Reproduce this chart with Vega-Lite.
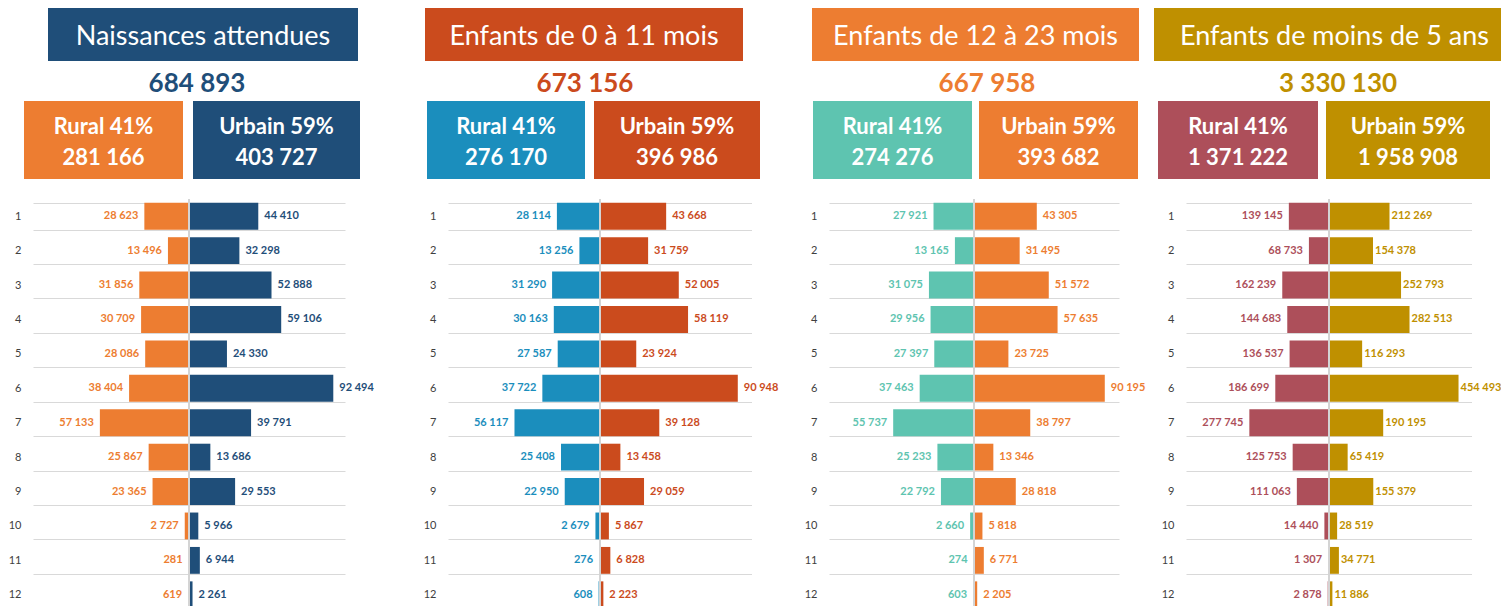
{
  "$schema": "https://vega.github.io/schema/vega-lite/v6.json",
  "padding": 0,
  "background": "white",
  "autosize": {"type": "pad"},
  "spacing": 0,
  "config": {
    "view": {"stroke": null},
    "font": "Lato",
    "concat": {"spacing": 0},
    "locale": {"number": {"decimal": ",", "thousands": " ", "grouping": [3], "currency": ["", " €"]}}
  },
  "datasets": {
    "bars": [
      {"panel": "p1", "zone": "Rural", "row": 1, "value": 28623},
      {"panel": "p1", "zone": "Rural", "row": 2, "value": 13496},
      {"panel": "p1", "zone": "Rural", "row": 3, "value": 31856},
      {"panel": "p1", "zone": "Rural", "row": 4, "value": 30709},
      {"panel": "p1", "zone": "Rural", "row": 5, "value": 28086},
      {"panel": "p1", "zone": "Rural", "row": 6, "value": 38404},
      {"panel": "p1", "zone": "Rural", "row": 7, "value": 57133},
      {"panel": "p1", "zone": "Rural", "row": 8, "value": 25867},
      {"panel": "p1", "zone": "Rural", "row": 9, "value": 23365},
      {"panel": "p1", "zone": "Rural", "row": 10, "value": 2727},
      {"panel": "p1", "zone": "Rural", "row": 11, "value": 281},
      {"panel": "p1", "zone": "Rural", "row": 12, "value": 619},
      {"panel": "p1", "zone": "Urbain", "row": 1, "value": 44410},
      {"panel": "p1", "zone": "Urbain", "row": 2, "value": 32298},
      {"panel": "p1", "zone": "Urbain", "row": 3, "value": 52888},
      {"panel": "p1", "zone": "Urbain", "row": 4, "value": 59106},
      {"panel": "p1", "zone": "Urbain", "row": 5, "value": 24330},
      {"panel": "p1", "zone": "Urbain", "row": 6, "value": 92494},
      {"panel": "p1", "zone": "Urbain", "row": 7, "value": 39791},
      {"panel": "p1", "zone": "Urbain", "row": 8, "value": 13686},
      {"panel": "p1", "zone": "Urbain", "row": 9, "value": 29553},
      {"panel": "p1", "zone": "Urbain", "row": 10, "value": 5966},
      {"panel": "p1", "zone": "Urbain", "row": 11, "value": 6944},
      {"panel": "p1", "zone": "Urbain", "row": 12, "value": 2261},
      {"panel": "p2", "zone": "Rural", "row": 1, "value": 28114},
      {"panel": "p2", "zone": "Rural", "row": 2, "value": 13256},
      {"panel": "p2", "zone": "Rural", "row": 3, "value": 31290},
      {"panel": "p2", "zone": "Rural", "row": 4, "value": 30163},
      {"panel": "p2", "zone": "Rural", "row": 5, "value": 27587},
      {"panel": "p2", "zone": "Rural", "row": 6, "value": 37722},
      {"panel": "p2", "zone": "Rural", "row": 7, "value": 56117},
      {"panel": "p2", "zone": "Rural", "row": 8, "value": 25408},
      {"panel": "p2", "zone": "Rural", "row": 9, "value": 22950},
      {"panel": "p2", "zone": "Rural", "row": 10, "value": 2679},
      {"panel": "p2", "zone": "Rural", "row": 11, "value": 276},
      {"panel": "p2", "zone": "Rural", "row": 12, "value": 608},
      {"panel": "p2", "zone": "Urbain", "row": 1, "value": 43668},
      {"panel": "p2", "zone": "Urbain", "row": 2, "value": 31759},
      {"panel": "p2", "zone": "Urbain", "row": 3, "value": 52005},
      {"panel": "p2", "zone": "Urbain", "row": 4, "value": 58119},
      {"panel": "p2", "zone": "Urbain", "row": 5, "value": 23924},
      {"panel": "p2", "zone": "Urbain", "row": 6, "value": 90948},
      {"panel": "p2", "zone": "Urbain", "row": 7, "value": 39128},
      {"panel": "p2", "zone": "Urbain", "row": 8, "value": 13458},
      {"panel": "p2", "zone": "Urbain", "row": 9, "value": 29059},
      {"panel": "p2", "zone": "Urbain", "row": 10, "value": 5867},
      {"panel": "p2", "zone": "Urbain", "row": 11, "value": 6828},
      {"panel": "p2", "zone": "Urbain", "row": 12, "value": 2223},
      {"panel": "p3", "zone": "Rural", "row": 1, "value": 27921},
      {"panel": "p3", "zone": "Rural", "row": 2, "value": 13165},
      {"panel": "p3", "zone": "Rural", "row": 3, "value": 31075},
      {"panel": "p3", "zone": "Rural", "row": 4, "value": 29956},
      {"panel": "p3", "zone": "Rural", "row": 5, "value": 27397},
      {"panel": "p3", "zone": "Rural", "row": 6, "value": 37463},
      {"panel": "p3", "zone": "Rural", "row": 7, "value": 55737},
      {"panel": "p3", "zone": "Rural", "row": 8, "value": 25233},
      {"panel": "p3", "zone": "Rural", "row": 9, "value": 22792},
      {"panel": "p3", "zone": "Rural", "row": 10, "value": 2660},
      {"panel": "p3", "zone": "Rural", "row": 11, "value": 274},
      {"panel": "p3", "zone": "Rural", "row": 12, "value": 603},
      {"panel": "p3", "zone": "Urbain", "row": 1, "value": 43305},
      {"panel": "p3", "zone": "Urbain", "row": 2, "value": 31495},
      {"panel": "p3", "zone": "Urbain", "row": 3, "value": 51572},
      {"panel": "p3", "zone": "Urbain", "row": 4, "value": 57635},
      {"panel": "p3", "zone": "Urbain", "row": 5, "value": 23725},
      {"panel": "p3", "zone": "Urbain", "row": 6, "value": 90195},
      {"panel": "p3", "zone": "Urbain", "row": 7, "value": 38797},
      {"panel": "p3", "zone": "Urbain", "row": 8, "value": 13346},
      {"panel": "p3", "zone": "Urbain", "row": 9, "value": 28818},
      {"panel": "p3", "zone": "Urbain", "row": 10, "value": 5818},
      {"panel": "p3", "zone": "Urbain", "row": 11, "value": 6771},
      {"panel": "p3", "zone": "Urbain", "row": 12, "value": 2205},
      {"panel": "p4", "zone": "Rural", "row": 1, "value": 139145},
      {"panel": "p4", "zone": "Rural", "row": 2, "value": 68733},
      {"panel": "p4", "zone": "Rural", "row": 3, "value": 162239},
      {"panel": "p4", "zone": "Rural", "row": 4, "value": 144683},
      {"panel": "p4", "zone": "Rural", "row": 5, "value": 136537},
      {"panel": "p4", "zone": "Rural", "row": 6, "value": 186699},
      {"panel": "p4", "zone": "Rural", "row": 7, "value": 277745},
      {"panel": "p4", "zone": "Rural", "row": 8, "value": 125753},
      {"panel": "p4", "zone": "Rural", "row": 9, "value": 111063},
      {"panel": "p4", "zone": "Rural", "row": 10, "value": 14440},
      {"panel": "p4", "zone": "Rural", "row": 11, "value": 1307},
      {"panel": "p4", "zone": "Rural", "row": 12, "value": 2878},
      {"panel": "p4", "zone": "Urbain", "row": 1, "value": 212269},
      {"panel": "p4", "zone": "Urbain", "row": 2, "value": 154378},
      {"panel": "p4", "zone": "Urbain", "row": 3, "value": 252793},
      {"panel": "p4", "zone": "Urbain", "row": 4, "value": 282513},
      {"panel": "p4", "zone": "Urbain", "row": 5, "value": 116293},
      {"panel": "p4", "zone": "Urbain", "row": 6, "value": 454493},
      {"panel": "p4", "zone": "Urbain", "row": 7, "value": 190195},
      {"panel": "p4", "zone": "Urbain", "row": 8, "value": 65419},
      {"panel": "p4", "zone": "Urbain", "row": 9, "value": 155379},
      {"panel": "p4", "zone": "Urbain", "row": 10, "value": 28519},
      {"panel": "p4", "zone": "Urbain", "row": 11, "value": 34771},
      {"panel": "p4", "zone": "Urbain", "row": 12, "value": 11886}
    ]
  },
  "vconcat": [
    {"width": 1400, "height": 8, "data": {"values": []}, "mark": "rect", "encoding": {}},
    {
      "spacing": 0, "bounds": "flush",
      "hconcat": [
        {"width": 48, "height": 53, "data": {"values": []}, "mark": "rect", "encoding": {}},
        {"width": 310, "height": 53, "view": {"fill": "#1F4E79"}, "data": {"values": [{"label": "Naissances attendues"}]},
         "mark": {"type": "text", "color": "white", "fontSize": 27, "baseline": "middle", "dy": 2}, "encoding": {"text": {"field": "label", "type": "nominal"}}},
        {"width": 67, "height": 53, "data": {"values": []}, "mark": "rect", "encoding": {}},
        {"width": 318, "height": 53, "view": {"fill": "#CB4B1D"}, "data": {"values": [{"label": "Enfants de 0 à 11 mois"}]},
         "mark": {"type": "text", "color": "white", "fontSize": 27, "baseline": "middle", "dy": 2}, "encoding": {"text": {"field": "label", "type": "nominal"}}},
        {"width": 69, "height": 53, "data": {"values": []}, "mark": "rect", "encoding": {}},
        {"width": 327, "height": 53, "view": {"fill": "#ED7D31"}, "data": {"values": [{"label": "Enfants de 12 à 23 mois"}]},
         "mark": {"type": "text", "color": "white", "fontSize": 27, "baseline": "middle", "dy": 2}, "encoding": {"text": {"field": "label", "type": "nominal"}}},
        {"width": 15, "height": 53, "data": {"values": []}, "mark": "rect", "encoding": {}},
        {"width": 347, "height": 53, "view": {"fill": "#BF9000"}, "data": {"values": [{"label": "Enfants de moins de 5 ans"}]},
         "mark": {"type": "text", "color": "white", "fontSize": 27, "baseline": "middle", "dy": 2, "dx": 7}, "encoding": {"text": {"field": "label", "type": "nominal"}}}
      ]
    },
    {
      "spacing": 0, "bounds": "flush",
      "hconcat": [
        {"width": 394, "height": 40, "data": {"values": [{"total": 684893}]},
         "mark": {"type": "text", "color": "#1F4E79", "fontSize": 26, "fontWeight": "bold", "baseline": "middle", "dy": 3}, "encoding": {"text": {"field": "total", "type": "quantitative", "format": ",d"}}},
        {"width": 382, "height": 40, "data": {"values": [{"total": 673156}]},
         "mark": {"type": "text", "color": "#CB4B1D", "fontSize": 26, "fontWeight": "bold", "baseline": "middle", "dy": 3}, "encoding": {"text": {"field": "total", "type": "quantitative", "format": ",d"}}},
        {"width": 422, "height": 40, "data": {"values": [{"total": 667958}]},
         "mark": {"type": "text", "color": "#ED7D31", "fontSize": 26, "fontWeight": "bold", "baseline": "middle", "dy": 3}, "encoding": {"text": {"field": "total", "type": "quantitative", "format": ",d"}}},
        {"width": 280, "height": 40, "data": {"values": [{"total": 3330130}]},
         "mark": {"type": "text", "color": "#BF9000", "fontSize": 26, "fontWeight": "bold", "baseline": "middle", "dy": 3}, "encoding": {"text": {"field": "total", "type": "quantitative", "format": ",d"}}}
      ]
    },
    {
      "spacing": 0, "bounds": "flush",
      "hconcat": [
        {"width": 24, "height": 78, "data": {"values": []}, "mark": "rect", "encoding": {}},
        {"width": 159, "height": 78, "view": {"fill": "#ED7D31"}, "data": {"values": [{"label": "Rural 41%", "value": 281166}]},
         "layer": [
           {"mark": {"type": "text", "color": "white", "fontSize": 22, "fontWeight": "bold", "baseline": "middle", "dy": -13}, "encoding": {"text": {"field": "label", "type": "nominal"}}},
           {"mark": {"type": "text", "color": "white", "fontSize": 22, "fontWeight": "bold", "baseline": "middle", "dy": 18}, "encoding": {"text": {"field": "value", "type": "quantitative", "format": ",d"}}}
         ]},
        {"width": 10, "height": 78, "data": {"values": []}, "mark": "rect", "encoding": {}},
        {"width": 167, "height": 78, "view": {"fill": "#1F4E79"}, "data": {"values": [{"label": "Urbain 59%", "value": 403727}]},
         "layer": [
           {"mark": {"type": "text", "color": "white", "fontSize": 22, "fontWeight": "bold", "baseline": "middle", "dy": -13}, "encoding": {"text": {"field": "label", "type": "nominal"}}},
           {"mark": {"type": "text", "color": "white", "fontSize": 22, "fontWeight": "bold", "baseline": "middle", "dy": 18}, "encoding": {"text": {"field": "value", "type": "quantitative", "format": ",d"}}}
         ]},
        {"width": 67, "height": 78, "data": {"values": []}, "mark": "rect", "encoding": {}},
        {"width": 158, "height": 78, "view": {"fill": "#1B8EBD"}, "data": {"values": [{"label": "Rural 41%", "value": 276170}]},
         "layer": [
           {"mark": {"type": "text", "color": "white", "fontSize": 22, "fontWeight": "bold", "baseline": "middle", "dy": -13}, "encoding": {"text": {"field": "label", "type": "nominal"}}},
           {"mark": {"type": "text", "color": "white", "fontSize": 22, "fontWeight": "bold", "baseline": "middle", "dy": 18}, "encoding": {"text": {"field": "value", "type": "quantitative", "format": ",d"}}}
         ]},
        {"width": 9, "height": 78, "data": {"values": []}, "mark": "rect", "encoding": {}},
        {"width": 166, "height": 78, "view": {"fill": "#CB4B1D"}, "data": {"values": [{"label": "Urbain 59%", "value": 396986}]},
         "layer": [
           {"mark": {"type": "text", "color": "white", "fontSize": 22, "fontWeight": "bold", "baseline": "middle", "dy": -13}, "encoding": {"text": {"field": "label", "type": "nominal"}}},
           {"mark": {"type": "text", "color": "white", "fontSize": 22, "fontWeight": "bold", "baseline": "middle", "dy": 18}, "encoding": {"text": {"field": "value", "type": "quantitative", "format": ",d"}}}
         ]},
        {"width": 53, "height": 78, "data": {"values": []}, "mark": "rect", "encoding": {}},
        {"width": 159, "height": 78, "view": {"fill": "#5EC4B0"}, "data": {"values": [{"label": "Rural 41%", "value": 274276}]},
         "layer": [
           {"mark": {"type": "text", "color": "white", "fontSize": 22, "fontWeight": "bold", "baseline": "middle", "dy": -13}, "encoding": {"text": {"field": "label", "type": "nominal"}}},
           {"mark": {"type": "text", "color": "white", "fontSize": 22, "fontWeight": "bold", "baseline": "middle", "dy": 18}, "encoding": {"text": {"field": "value", "type": "quantitative", "format": ",d"}}}
         ]},
        {"width": 7, "height": 78, "data": {"values": []}, "mark": "rect", "encoding": {}},
        {"width": 159, "height": 78, "view": {"fill": "#ED7D31"}, "data": {"values": [{"label": "Urbain 59%", "value": 393682}]},
         "layer": [
           {"mark": {"type": "text", "color": "white", "fontSize": 22, "fontWeight": "bold", "baseline": "middle", "dy": -13}, "encoding": {"text": {"field": "label", "type": "nominal"}}},
           {"mark": {"type": "text", "color": "white", "fontSize": 22, "fontWeight": "bold", "baseline": "middle", "dy": 18}, "encoding": {"text": {"field": "value", "type": "quantitative", "format": ",d"}}}
         ]},
        {"width": 20, "height": 78, "data": {"values": []}, "mark": "rect", "encoding": {}},
        {"width": 160, "height": 78, "view": {"fill": "#AD4F5A"}, "data": {"values": [{"label": "Rural 41%", "value": 1371222}]},
         "layer": [
           {"mark": {"type": "text", "color": "white", "fontSize": 22, "fontWeight": "bold", "baseline": "middle", "dy": -13}, "encoding": {"text": {"field": "label", "type": "nominal"}}},
           {"mark": {"type": "text", "color": "white", "fontSize": 22, "fontWeight": "bold", "baseline": "middle", "dy": 18}, "encoding": {"text": {"field": "value", "type": "quantitative", "format": ",d"}}}
         ]},
        {"width": 8, "height": 78, "data": {"values": []}, "mark": "rect", "encoding": {}},
        {"width": 164, "height": 78, "view": {"fill": "#BF9000"}, "data": {"values": [{"label": "Urbain 59%", "value": 1958908}]},
         "layer": [
           {"mark": {"type": "text", "color": "white", "fontSize": 22, "fontWeight": "bold", "baseline": "middle", "dy": -13}, "encoding": {"text": {"field": "label", "type": "nominal"}}},
           {"mark": {"type": "text", "color": "white", "fontSize": 22, "fontWeight": "bold", "baseline": "middle", "dy": 18}, "encoding": {"text": {"field": "value", "type": "quantitative", "format": ",d"}}}
         ]}
      ]
    },
    {"width": 1400, "height": 14, "data": {"values": []}, "mark": "rect", "encoding": {}},
    {
      "spacing": 0, "bounds": "flush",
      "hconcat": [
        {"width": 33, "height": 413, "data": {"values": []}, "mark": "rect", "encoding": {}},
        {"width": 156, "height": 413, "data": {"name": "bars"},
         "transform": [{"filter": "datum.panel == 'p1' && datum.zone == 'Rural'"}],
         "encoding": {
           "y": {"field": "row", "type": "ordinal", "scale": {"paddingInner": 0.22, "paddingOuter": 0.11},
                 "axis": {"title": null, "domain": false, "ticks": false, "grid": true, "tickBand": "extent", "labelPadding": 12, "labelFontSize": 11, "labelColor": "#404040", "gridColor": "#D9D9D9", "labelAngle": 0}},
           "x": {"field": "value", "type": "quantitative", "scale": {"domain": [0, 100000], "reverse": true}, "axis": null}
         },
         "layer": [
           {"mark": {"type": "bar", "color": "#ED7D31"}},
           {"mark": {"type": "text", "align": "right", "dx": -6, "fontWeight": "bold", "fontSize": 11, "color": "#ED7D31"},
            "encoding": {"text": {"field": "value", "type": "quantitative", "format": ",d"}}}
         ]},
        {"width": 156, "height": 413, "data": {"name": "bars"},
         "transform": [{"filter": "datum.panel == 'p1' && datum.zone == 'Urbain'"}],
         "layer": [
           {"encoding": {
              "y": {"field": "row", "type": "ordinal", "scale": {"paddingInner": 0.22, "paddingOuter": 0.11},
                    "axis": {"title": null, "labels": false, "domain": false, "ticks": false, "grid": true, "tickBand": "extent", "gridColor": "#D9D9D9"}},
              "x": {"field": "value", "type": "quantitative", "scale": {"domain": [0, 100000]}, "axis": null}
            },
            "layer": [
              {"mark": {"type": "bar", "color": "#1F4E79"}},
              {"mark": {"type": "text", "align": "left", "dx": 6, "fontWeight": "bold", "fontSize": 11, "color": "#1F4E79"},
               "encoding": {"text": {"field": "value", "type": "quantitative", "format": ",d"}}}
            ]},
           {"mark": {"type": "rule", "color": "#D4D4D4", "strokeWidth": 2}, "encoding": {"x": {"datum": 0}}}
         ]},
        {"width": 103, "height": 413, "data": {"values": []}, "mark": "rect", "encoding": {}},
        {"width": 151.5, "height": 413, "data": {"name": "bars"},
         "transform": [{"filter": "datum.panel == 'p2' && datum.zone == 'Rural'"}],
         "encoding": {
           "y": {"field": "row", "type": "ordinal", "scale": {"paddingInner": 0.22, "paddingOuter": 0.11},
                 "axis": {"title": null, "domain": false, "ticks": false, "grid": true, "tickBand": "extent", "labelPadding": 12, "labelFontSize": 11, "labelColor": "#404040", "gridColor": "#D9D9D9", "labelAngle": 0}},
           "x": {"field": "value", "type": "quantitative", "scale": {"domain": [0, 100000], "reverse": true}, "axis": null}
         },
         "layer": [
           {"mark": {"type": "bar", "color": "#1B8EBD"}},
           {"mark": {"type": "text", "align": "right", "dx": -6, "fontWeight": "bold", "fontSize": 11, "color": "#1B8EBD"},
            "encoding": {"text": {"field": "value", "type": "quantitative", "format": ",d"}}}
         ]},
        {"width": 151.5, "height": 413, "data": {"name": "bars"},
         "transform": [{"filter": "datum.panel == 'p2' && datum.zone == 'Urbain'"}],
         "layer": [
           {"encoding": {
              "y": {"field": "row", "type": "ordinal", "scale": {"paddingInner": 0.22, "paddingOuter": 0.11},
                    "axis": {"title": null, "labels": false, "domain": false, "ticks": false, "grid": true, "tickBand": "extent", "gridColor": "#D9D9D9"}},
              "x": {"field": "value", "type": "quantitative", "scale": {"domain": [0, 100000]}, "axis": null}
            },
            "layer": [
              {"mark": {"type": "bar", "color": "#CB4B1D"}},
              {"mark": {"type": "text", "align": "left", "dx": 6, "fontWeight": "bold", "fontSize": 11, "color": "#CB4B1D"},
               "encoding": {"text": {"field": "value", "type": "quantitative", "format": ",d"}}}
            ]},
           {"mark": {"type": "rule", "color": "#D4D4D4", "strokeWidth": 2}, "encoding": {"x": {"datum": 0}}}
         ]},
        {"width": 77, "height": 413, "data": {"values": []}, "mark": "rect", "encoding": {}},
        {"width": 145, "height": 413, "data": {"name": "bars"},
         "transform": [{"filter": "datum.panel == 'p3' && datum.zone == 'Rural'"}],
         "encoding": {
           "y": {"field": "row", "type": "ordinal", "scale": {"paddingInner": 0.22, "paddingOuter": 0.11},
                 "axis": {"title": null, "domain": false, "ticks": false, "grid": true, "tickBand": "extent", "labelPadding": 12, "labelFontSize": 11, "labelColor": "#404040", "gridColor": "#D9D9D9", "labelAngle": 0}},
           "x": {"field": "value", "type": "quantitative", "scale": {"domain": [0, 100000], "reverse": true}, "axis": null}
         },
         "layer": [
           {"mark": {"type": "bar", "color": "#5EC4B0"}},
           {"mark": {"type": "text", "align": "right", "dx": -6, "fontWeight": "bold", "fontSize": 11, "color": "#5EC4B0"},
            "encoding": {"text": {"field": "value", "type": "quantitative", "format": ",d"}}}
         ]},
        {"width": 145, "height": 413, "data": {"name": "bars"},
         "transform": [{"filter": "datum.panel == 'p3' && datum.zone == 'Urbain'"}],
         "layer": [
           {"encoding": {
              "y": {"field": "row", "type": "ordinal", "scale": {"paddingInner": 0.22, "paddingOuter": 0.11},
                    "axis": {"title": null, "labels": false, "domain": false, "ticks": false, "grid": true, "tickBand": "extent", "gridColor": "#D9D9D9"}},
              "x": {"field": "value", "type": "quantitative", "scale": {"domain": [0, 100000]}, "axis": null}
            },
            "layer": [
              {"mark": {"type": "bar", "color": "#ED7D31"}},
              {"mark": {"type": "text", "align": "left", "dx": 6, "fontWeight": "bold", "fontSize": 11, "color": "#ED7D31"},
               "encoding": {"text": {"field": "value", "type": "quantitative", "format": ",d"}}}
            ]},
           {"mark": {"type": "rule", "color": "#D4D4D4", "strokeWidth": 2}, "encoding": {"x": {"datum": 0}}}
         ]},
        {"width": 67, "height": 413, "data": {"values": []}, "mark": "rect", "encoding": {}},
        {"width": 142.5, "height": 413, "data": {"name": "bars"},
         "transform": [{"filter": "datum.panel == 'p4' && datum.zone == 'Rural'"}],
         "encoding": {
           "y": {"field": "row", "type": "ordinal", "scale": {"paddingInner": 0.22, "paddingOuter": 0.11},
                 "axis": {"title": null, "domain": false, "ticks": false, "grid": true, "tickBand": "extent", "labelPadding": 12, "labelFontSize": 11, "labelColor": "#404040", "gridColor": "#D9D9D9", "labelAngle": 0}},
           "x": {"field": "value", "type": "quantitative", "scale": {"domain": [0, 500000], "reverse": true}, "axis": null}
         },
         "layer": [
           {"mark": {"type": "bar", "color": "#AD4F5A"}},
           {"mark": {"type": "text", "align": "right", "dx": -6, "fontWeight": "bold", "fontSize": 11, "color": "#AD4F5A"},
            "encoding": {"text": {"field": "value", "type": "quantitative", "format": ",d"}}}
         ]},
        {"width": 142.5, "height": 413, "data": {"name": "bars"},
         "transform": [{"filter": "datum.panel == 'p4' && datum.zone == 'Urbain'"}],
         "layer": [
           {"encoding": {
              "y": {"field": "row", "type": "ordinal", "scale": {"paddingInner": 0.22, "paddingOuter": 0.11},
                    "axis": {"title": null, "labels": false, "domain": false, "ticks": false, "grid": true, "tickBand": "extent", "gridColor": "#D9D9D9"}},
              "x": {"field": "value", "type": "quantitative", "scale": {"domain": [0, 500000]}, "axis": null}
            },
            "layer": [
              {"mark": {"type": "bar", "color": "#BF9000"}},
              {"mark": {"type": "text", "align": "left", "dx": 2, "fontWeight": "bold", "fontSize": 11, "color": "#BF9000"},
               "encoding": {"text": {"field": "value", "type": "quantitative", "format": ",d"}}}
            ]},
           {"mark": {"type": "rule", "color": "#D4D4D4", "strokeWidth": 2}, "encoding": {"x": {"datum": 0}}}
         ]}
      ]
    }
  ]
}
